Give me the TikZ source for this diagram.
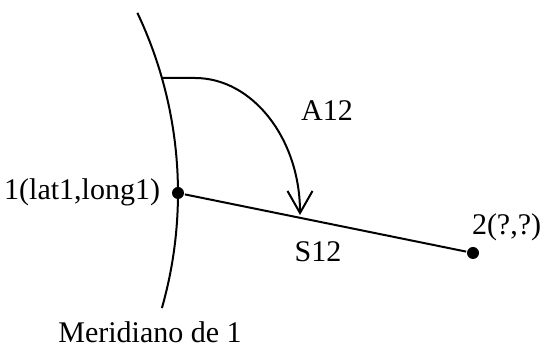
\documentclass[tikz,border=0pt]{standalone}
\usepackage{fontspec}
\setmainfont{Liberation Serif}
\usetikzlibrary{arrows.meta}

\begin{document}
\begin{tikzpicture}[x=0.5pt,y=-0.5pt,line width=1pt,
    dot/.style={circle,fill,inner sep=0pt,minimum size=6pt},
    lbl/.style={inner sep=0pt,font=\fontsize{15}{18}\selectfont}]

\useasboundingbox (0,0) rectangle (542,347);

% meridian of point 1
\coordinate (ctr) at (-242,193);
\draw (ctr) ++(-25.4:420) arc[start angle=-25.4,end angle=15.9,radius=420];
\coordinate (mtop) at (162,78);
\coordinate (bend) at (195,78);

\node[dot] (p1) at (178,193) {};
\node[dot] (p2) at (473,253) {};

\draw (p1) -- (p2);

% azimuth A12
\draw[-{Straight Barb[length=11pt,width=12.5pt]}] (mtop) -- (bend)
    arc[start angle=-90,end angle=0,x radius=105,y radius=137];

\node[lbl,anchor=base east] (l1) at (161,200) {1(lat1,long1)};
\node[lbl,anchor=base west] (l2) at (471,235) {2(?,?)};
\node[lbl,anchor=base] (s12) at (318,262) {S12};
\node[lbl,anchor=base] (a12) at (327,121) {A12};
\node[lbl,anchor=base] (mer) at (150,343) {Meridiano de 1};
\end{tikzpicture}
\end{document}
